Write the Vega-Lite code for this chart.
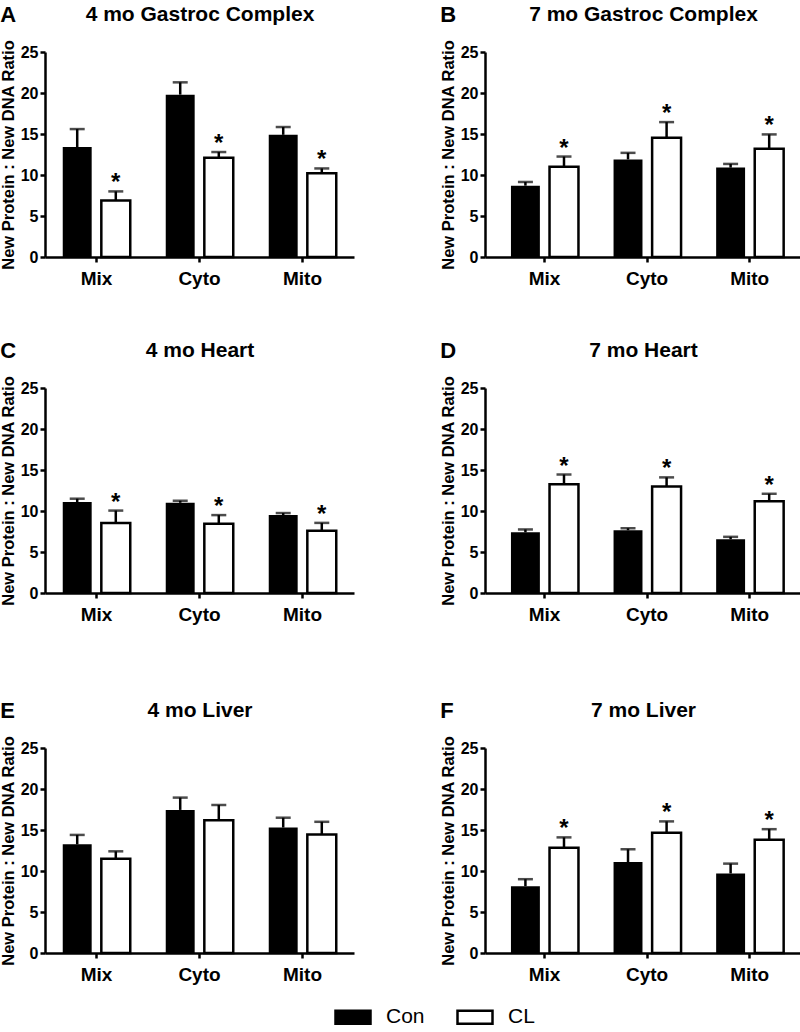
{
"$schema": "https://vega.github.io/schema/vega-lite/v6.json",
"padding": {"top": 3, "left": 0, "right": 0, "bottom": 0},
"background": "white",
"datasets": {"d": [
{"p":"A","cat":"Mix","grp":"Con","mean":13.4,"upper":15.6,"sig":""},
{"p":"A","cat":"Mix","grp":"CL","mean":6.9,"upper":8.0,"sig":"*"},
{"p":"A","cat":"Cyto","grp":"Con","mean":19.8,"upper":21.3,"sig":""},
{"p":"A","cat":"Cyto","grp":"CL","mean":12.1,"upper":12.8,"sig":"*"},
{"p":"A","cat":"Mito","grp":"Con","mean":14.9,"upper":15.85,"sig":""},
{"p":"A","cat":"Mito","grp":"CL","mean":10.2,"upper":10.8,"sig":"*"},
{"p":"B","cat":"Mix","grp":"Con","mean":8.7,"upper":9.15,"sig":""},
{"p":"B","cat":"Mix","grp":"CL","mean":11.0,"upper":12.25,"sig":"*"},
{"p":"B","cat":"Cyto","grp":"Con","mean":11.9,"upper":12.7,"sig":""},
{"p":"B","cat":"Cyto","grp":"CL","mean":14.55,"upper":16.45,"sig":"*"},
{"p":"B","cat":"Mito","grp":"Con","mean":10.9,"upper":11.35,"sig":""},
{"p":"B","cat":"Mito","grp":"CL","mean":13.2,"upper":14.95,"sig":"*"},
{"p":"C","cat":"Mix","grp":"Con","mean":11.1,"upper":11.5,"sig":""},
{"p":"C","cat":"Mix","grp":"CL","mean":8.55,"upper":10.05,"sig":"*"},
{"p":"C","cat":"Cyto","grp":"Con","mean":11.0,"upper":11.25,"sig":""},
{"p":"C","cat":"Cyto","grp":"CL","mean":8.45,"upper":9.5,"sig":"*"},
{"p":"C","cat":"Mito","grp":"Con","mean":9.5,"upper":9.75,"sig":""},
{"p":"C","cat":"Mito","grp":"CL","mean":7.6,"upper":8.55,"sig":"*"},
{"p":"D","cat":"Mix","grp":"Con","mean":7.4,"upper":7.75,"sig":""},
{"p":"D","cat":"Mix","grp":"CL","mean":13.25,"upper":14.45,"sig":"*"},
{"p":"D","cat":"Cyto","grp":"Con","mean":7.65,"upper":7.9,"sig":""},
{"p":"D","cat":"Cyto","grp":"CL","mean":13.0,"upper":14.1,"sig":"*"},
{"p":"D","cat":"Mito","grp":"Con","mean":6.55,"upper":6.85,"sig":""},
{"p":"D","cat":"Mito","grp":"CL","mean":11.2,"upper":12.1,"sig":"*"},
{"p":"E","cat":"Mix","grp":"Con","mean":13.25,"upper":14.4,"sig":""},
{"p":"E","cat":"Mix","grp":"CL","mean":11.5,"upper":12.4,"sig":""},
{"p":"E","cat":"Cyto","grp":"Con","mean":17.45,"upper":18.95,"sig":""},
{"p":"E","cat":"Cyto","grp":"CL","mean":16.2,"upper":18.05,"sig":""},
{"p":"E","cat":"Mito","grp":"Con","mean":15.3,"upper":16.5,"sig":""},
{"p":"E","cat":"Mito","grp":"CL","mean":14.45,"upper":16.0,"sig":""},
{"p":"F","cat":"Mix","grp":"Con","mean":8.15,"upper":9.0,"sig":""},
{"p":"F","cat":"Mix","grp":"CL","mean":12.85,"upper":14.1,"sig":"*"},
{"p":"F","cat":"Cyto","grp":"Con","mean":11.1,"upper":12.65,"sig":""},
{"p":"F","cat":"Cyto","grp":"CL","mean":14.65,"upper":16.05,"sig":"*"},
{"p":"F","cat":"Mito","grp":"Con","mean":9.7,"upper":10.9,"sig":""},
{"p":"F","cat":"Mito","grp":"CL","mean":13.8,"upper":15.1,"sig":"*"}
]},
"vconcat": [
{"vconcat": [
{"hconcat": [
{"width": 309, "height": 205, "data": {"name": "d"}, "transform": [{"filter": "datum.p=='A'"}],
 "title": {"text": "A"},
 "layer": [
  {"mark": {"type": "bar", "stroke": "black"},
   "encoding": {"x": {"field": "cat", "type": "nominal", "sort": ["Mix","Cyto","Mito"], "scale": {"paddingInner": 0, "paddingOuter": 0}, "axis": {"orient": "bottom", "title": null}},
    "xOffset": {"field": "grp", "type": "nominal", "sort": ["Con","CL"], "scale": {"paddingInner": 0.25, "paddingOuter": 0.46}},
    "y": {"field": "mean", "type": "quantitative", "scale": {"domain": [0,25], "nice": false}, "axis": {"title": "New Protein : New DNA Ratio", "values": [0,5,10,15,20,25]}},
    "fill": {"field": "grp", "type": "nominal", "scale": {"domain": ["Con","CL"], "range": ["black","white"]}, "legend": {"orient": "none", "legendX": 289, "legendY": 946, "direction": "horizontal", "title": null, "symbolType": "M-1,-0.37H1V0.37H-1Z", "symbolSize": 1225, "symbolStrokeColor": "black", "symbolStrokeWidth": 2.5, "labelFontSize": 21, "labelFontWeight": "normal", "labelOffset": 14, "columnPadding": 27, "labelColor": "black"}},
    "strokeWidth": {"condition": {"test": "datum.grp=='CL'", "value": 2.5}, "value": 0}}},
  {"mark": {"type": "rule", "strokeWidth": 2.5, "color": "black"},
   "encoding": {"x": {"field": "cat", "type": "nominal", "sort": ["Mix","Cyto","Mito"], "axis": {"orient": "top", "title": "4 mo Gastroc Complex", "labels": false, "ticks": false, "domain": false}},
    "xOffset": {"field": "grp", "type": "nominal", "sort": ["Con","CL"]},
    "y": {"field": "mean", "type": "quantitative", "axis": {"title": "New Protein : New DNA Ratio", "values": [0,5,10,15,20,25]}}, "y2": {"field": "upper"}}},
  {"mark": {"type": "tick", "orient": "horizontal", "size": 15, "thickness": 2.5, "color": "black"},
   "encoding": {"x": {"field": "cat", "type": "nominal", "sort": ["Mix","Cyto","Mito"], "axis": null},
    "xOffset": {"field": "grp", "type": "nominal", "sort": ["Con","CL"]},
    "y": {"field": "upper", "type": "quantitative", "axis": {"title": "New Protein : New DNA Ratio", "values": [0,5,10,15,20,25]}}}},
  {"transform": [{"filter": "datum.sig=='*'"}],
   "mark": {"type": "text", "fontSize": 24, "fontWeight": "bold", "baseline": "alphabetic", "dy": -1, "color": "black"},
   "encoding": {"x": {"field": "cat", "type": "nominal", "sort": ["Mix","Cyto","Mito"], "axis": null},
    "xOffset": {"field": "grp", "type": "nominal", "sort": ["Con","CL"]},
    "y": {"field": "upper", "type": "quantitative", "axis": {"title": "New Protein : New DNA Ratio", "values": [0,5,10,15,20,25]}}, "text": {"field": "sig"}}}
 ],
 "resolve": {"axis": {"x": "independent"}}},
{"width": 316, "height": 205, "data": {"name": "d"}, "transform": [{"filter": "datum.p=='B'"}],
 "title": {"text": "B"},
 "layer": [
  {"mark": {"type": "bar", "stroke": "black"},
   "encoding": {"x": {"field": "cat", "type": "nominal", "sort": ["Mix","Cyto","Mito"], "scale": {"paddingInner": 0, "paddingOuter": 0.04, "align": 1}, "axis": {"orient": "bottom", "title": null}},
    "xOffset": {"field": "grp", "type": "nominal", "sort": ["Con","CL"], "scale": {"paddingInner": 0.25, "paddingOuter": 0.46}},
    "y": {"field": "mean", "type": "quantitative", "scale": {"domain": [0,25], "nice": false}, "axis": {"title": "New Protein : New DNA Ratio", "values": [0,5,10,15,20,25]}},
    "fill": {"field": "grp", "type": "nominal", "scale": {"domain": ["Con","CL"], "range": ["black","white"]}},
    "strokeWidth": {"condition": {"test": "datum.grp=='CL'", "value": 2.5}, "value": 0}}},
  {"mark": {"type": "rule", "strokeWidth": 2.5, "color": "black"},
   "encoding": {"x": {"field": "cat", "type": "nominal", "sort": ["Mix","Cyto","Mito"], "axis": {"orient": "top", "title": "7 mo Gastroc Complex", "labels": false, "ticks": false, "domain": false}},
    "xOffset": {"field": "grp", "type": "nominal", "sort": ["Con","CL"]},
    "y": {"field": "mean", "type": "quantitative", "axis": {"title": "New Protein : New DNA Ratio", "values": [0,5,10,15,20,25]}}, "y2": {"field": "upper"}}},
  {"mark": {"type": "tick", "orient": "horizontal", "size": 15, "thickness": 2.5, "color": "black"},
   "encoding": {"x": {"field": "cat", "type": "nominal", "sort": ["Mix","Cyto","Mito"], "axis": null},
    "xOffset": {"field": "grp", "type": "nominal", "sort": ["Con","CL"]},
    "y": {"field": "upper", "type": "quantitative", "axis": {"title": "New Protein : New DNA Ratio", "values": [0,5,10,15,20,25]}}}},
  {"transform": [{"filter": "datum.sig=='*'"}],
   "mark": {"type": "text", "fontSize": 24, "fontWeight": "bold", "baseline": "alphabetic", "dy": -1, "color": "black"},
   "encoding": {"x": {"field": "cat", "type": "nominal", "sort": ["Mix","Cyto","Mito"], "axis": null},
    "xOffset": {"field": "grp", "type": "nominal", "sort": ["Con","CL"]},
    "y": {"field": "upper", "type": "quantitative", "axis": {"title": "New Protein : New DNA Ratio", "values": [0,5,10,15,20,25]}}, "text": {"field": "sig"}}}
 ],
 "resolve": {"axis": {"x": "independent"}}}
], "spacing": 86},
{"hconcat": [
{"width": 309, "height": 205, "data": {"name": "d"}, "transform": [{"filter": "datum.p=='C'"}],
 "title": {"text": "C"},
 "layer": [
  {"mark": {"type": "bar", "stroke": "black"},
   "encoding": {"x": {"field": "cat", "type": "nominal", "sort": ["Mix","Cyto","Mito"], "scale": {"paddingInner": 0, "paddingOuter": 0}, "axis": {"orient": "bottom", "title": null}},
    "xOffset": {"field": "grp", "type": "nominal", "sort": ["Con","CL"], "scale": {"paddingInner": 0.25, "paddingOuter": 0.46}},
    "y": {"field": "mean", "type": "quantitative", "scale": {"domain": [0,25], "nice": false}, "axis": {"title": "New Protein : New DNA Ratio", "values": [0,5,10,15,20,25]}},
    "fill": {"field": "grp", "type": "nominal", "scale": {"domain": ["Con","CL"], "range": ["black","white"]}},
    "strokeWidth": {"condition": {"test": "datum.grp=='CL'", "value": 2.5}, "value": 0}}},
  {"mark": {"type": "rule", "strokeWidth": 2.5, "color": "black"},
   "encoding": {"x": {"field": "cat", "type": "nominal", "sort": ["Mix","Cyto","Mito"], "axis": {"orient": "top", "title": "4 mo Heart", "labels": false, "ticks": false, "domain": false}},
    "xOffset": {"field": "grp", "type": "nominal", "sort": ["Con","CL"]},
    "y": {"field": "mean", "type": "quantitative", "axis": {"title": "New Protein : New DNA Ratio", "values": [0,5,10,15,20,25]}}, "y2": {"field": "upper"}}},
  {"mark": {"type": "tick", "orient": "horizontal", "size": 15, "thickness": 2.5, "color": "black"},
   "encoding": {"x": {"field": "cat", "type": "nominal", "sort": ["Mix","Cyto","Mito"], "axis": null},
    "xOffset": {"field": "grp", "type": "nominal", "sort": ["Con","CL"]},
    "y": {"field": "upper", "type": "quantitative", "axis": {"title": "New Protein : New DNA Ratio", "values": [0,5,10,15,20,25]}}}},
  {"transform": [{"filter": "datum.sig=='*'"}],
   "mark": {"type": "text", "fontSize": 24, "fontWeight": "bold", "baseline": "alphabetic", "dy": -1, "color": "black"},
   "encoding": {"x": {"field": "cat", "type": "nominal", "sort": ["Mix","Cyto","Mito"], "axis": null},
    "xOffset": {"field": "grp", "type": "nominal", "sort": ["Con","CL"]},
    "y": {"field": "upper", "type": "quantitative", "axis": {"title": "New Protein : New DNA Ratio", "values": [0,5,10,15,20,25]}}, "text": {"field": "sig"}}}
 ],
 "resolve": {"axis": {"x": "independent"}}},
{"width": 316, "height": 205, "data": {"name": "d"}, "transform": [{"filter": "datum.p=='D'"}],
 "title": {"text": "D"},
 "layer": [
  {"mark": {"type": "bar", "stroke": "black"},
   "encoding": {"x": {"field": "cat", "type": "nominal", "sort": ["Mix","Cyto","Mito"], "scale": {"paddingInner": 0, "paddingOuter": 0.04, "align": 1}, "axis": {"orient": "bottom", "title": null}},
    "xOffset": {"field": "grp", "type": "nominal", "sort": ["Con","CL"], "scale": {"paddingInner": 0.25, "paddingOuter": 0.46}},
    "y": {"field": "mean", "type": "quantitative", "scale": {"domain": [0,25], "nice": false}, "axis": {"title": "New Protein : New DNA Ratio", "values": [0,5,10,15,20,25]}},
    "fill": {"field": "grp", "type": "nominal", "scale": {"domain": ["Con","CL"], "range": ["black","white"]}},
    "strokeWidth": {"condition": {"test": "datum.grp=='CL'", "value": 2.5}, "value": 0}}},
  {"mark": {"type": "rule", "strokeWidth": 2.5, "color": "black"},
   "encoding": {"x": {"field": "cat", "type": "nominal", "sort": ["Mix","Cyto","Mito"], "axis": {"orient": "top", "title": "7 mo Heart", "labels": false, "ticks": false, "domain": false}},
    "xOffset": {"field": "grp", "type": "nominal", "sort": ["Con","CL"]},
    "y": {"field": "mean", "type": "quantitative", "axis": {"title": "New Protein : New DNA Ratio", "values": [0,5,10,15,20,25]}}, "y2": {"field": "upper"}}},
  {"mark": {"type": "tick", "orient": "horizontal", "size": 15, "thickness": 2.5, "color": "black"},
   "encoding": {"x": {"field": "cat", "type": "nominal", "sort": ["Mix","Cyto","Mito"], "axis": null},
    "xOffset": {"field": "grp", "type": "nominal", "sort": ["Con","CL"]},
    "y": {"field": "upper", "type": "quantitative", "axis": {"title": "New Protein : New DNA Ratio", "values": [0,5,10,15,20,25]}}}},
  {"transform": [{"filter": "datum.sig=='*'"}],
   "mark": {"type": "text", "fontSize": 24, "fontWeight": "bold", "baseline": "alphabetic", "dy": -1, "color": "black"},
   "encoding": {"x": {"field": "cat", "type": "nominal", "sort": ["Mix","Cyto","Mito"], "axis": null},
    "xOffset": {"field": "grp", "type": "nominal", "sort": ["Con","CL"]},
    "y": {"field": "upper", "type": "quantitative", "axis": {"title": "New Protein : New DNA Ratio", "values": [0,5,10,15,20,25]}}, "text": {"field": "sig"}}}
 ],
 "resolve": {"axis": {"x": "independent"}}}
], "spacing": 86}
], "spacing": 51},
{"hconcat": [
{"width": 309, "height": 205, "data": {"name": "d"}, "transform": [{"filter": "datum.p=='E'"}],
 "title": {"text": "E"},
 "layer": [
  {"mark": {"type": "bar", "stroke": "black"},
   "encoding": {"x": {"field": "cat", "type": "nominal", "sort": ["Mix","Cyto","Mito"], "scale": {"paddingInner": 0, "paddingOuter": 0}, "axis": {"orient": "bottom", "title": null}},
    "xOffset": {"field": "grp", "type": "nominal", "sort": ["Con","CL"], "scale": {"paddingInner": 0.25, "paddingOuter": 0.46}},
    "y": {"field": "mean", "type": "quantitative", "scale": {"domain": [0,25], "nice": false}, "axis": {"title": "New Protein : New DNA Ratio", "values": [0,5,10,15,20,25]}},
    "fill": {"field": "grp", "type": "nominal", "scale": {"domain": ["Con","CL"], "range": ["black","white"]}},
    "strokeWidth": {"condition": {"test": "datum.grp=='CL'", "value": 2.5}, "value": 0}}},
  {"mark": {"type": "rule", "strokeWidth": 2.5, "color": "black"},
   "encoding": {"x": {"field": "cat", "type": "nominal", "sort": ["Mix","Cyto","Mito"], "axis": {"orient": "top", "title": "4 mo Liver", "labels": false, "ticks": false, "domain": false}},
    "xOffset": {"field": "grp", "type": "nominal", "sort": ["Con","CL"]},
    "y": {"field": "mean", "type": "quantitative", "axis": {"title": "New Protein : New DNA Ratio", "values": [0,5,10,15,20,25]}}, "y2": {"field": "upper"}}},
  {"mark": {"type": "tick", "orient": "horizontal", "size": 15, "thickness": 2.5, "color": "black"},
   "encoding": {"x": {"field": "cat", "type": "nominal", "sort": ["Mix","Cyto","Mito"], "axis": null},
    "xOffset": {"field": "grp", "type": "nominal", "sort": ["Con","CL"]},
    "y": {"field": "upper", "type": "quantitative", "axis": {"title": "New Protein : New DNA Ratio", "values": [0,5,10,15,20,25]}}}}
 ],
 "resolve": {"axis": {"x": "independent"}}},
{"width": 316, "height": 205, "data": {"name": "d"}, "transform": [{"filter": "datum.p=='F'"}],
 "title": {"text": "F"},
 "layer": [
  {"mark": {"type": "bar", "stroke": "black"},
   "encoding": {"x": {"field": "cat", "type": "nominal", "sort": ["Mix","Cyto","Mito"], "scale": {"paddingInner": 0, "paddingOuter": 0.04, "align": 1}, "axis": {"orient": "bottom", "title": null}},
    "xOffset": {"field": "grp", "type": "nominal", "sort": ["Con","CL"], "scale": {"paddingInner": 0.25, "paddingOuter": 0.46}},
    "y": {"field": "mean", "type": "quantitative", "scale": {"domain": [0,25], "nice": false}, "axis": {"title": "New Protein : New DNA Ratio", "values": [0,5,10,15,20,25]}},
    "fill": {"field": "grp", "type": "nominal", "scale": {"domain": ["Con","CL"], "range": ["black","white"]}},
    "strokeWidth": {"condition": {"test": "datum.grp=='CL'", "value": 2.5}, "value": 0}}},
  {"mark": {"type": "rule", "strokeWidth": 2.5, "color": "black"},
   "encoding": {"x": {"field": "cat", "type": "nominal", "sort": ["Mix","Cyto","Mito"], "axis": {"orient": "top", "title": "7 mo Liver", "labels": false, "ticks": false, "domain": false}},
    "xOffset": {"field": "grp", "type": "nominal", "sort": ["Con","CL"]},
    "y": {"field": "mean", "type": "quantitative", "axis": {"title": "New Protein : New DNA Ratio", "values": [0,5,10,15,20,25]}}, "y2": {"field": "upper"}}},
  {"mark": {"type": "tick", "orient": "horizontal", "size": 15, "thickness": 2.5, "color": "black"},
   "encoding": {"x": {"field": "cat", "type": "nominal", "sort": ["Mix","Cyto","Mito"], "axis": null},
    "xOffset": {"field": "grp", "type": "nominal", "sort": ["Con","CL"]},
    "y": {"field": "upper", "type": "quantitative", "axis": {"title": "New Protein : New DNA Ratio", "values": [0,5,10,15,20,25]}}}},
  {"transform": [{"filter": "datum.sig=='*'"}],
   "mark": {"type": "text", "fontSize": 24, "fontWeight": "bold", "baseline": "alphabetic", "dy": -1, "color": "black"},
   "encoding": {"x": {"field": "cat", "type": "nominal", "sort": ["Mix","Cyto","Mito"], "axis": null},
    "xOffset": {"field": "grp", "type": "nominal", "sort": ["Con","CL"]},
    "y": {"field": "upper", "type": "quantitative", "axis": {"title": "New Protein : New DNA Ratio", "values": [0,5,10,15,20,25]}}, "text": {"field": "sig"}}}
 ],
 "resolve": {"axis": {"x": "independent"}}}
], "spacing": 86}
],
"spacing": 75,
"config": {
 "font": "Liberation Sans",
 "view": {"stroke": null},
 "title": {"fontSize": 22, "fontWeight": "bold", "anchor": "start", "frame": "bounds", "baseline": "alphabetic", "offset": -24, "color": "black"},
 "axis": {"domainColor": "black", "domainWidth": 2.5, "tickColor": "black", "tickWidth": 2.5, "tickSize": 5, "labelColor": "black", "titleColor": "black", "labelFontWeight": "bold", "titleFontWeight": "bold", "grid": false},
 "axisX": {"labelFontSize": 19, "labelAngle": 0, "labelPadding": 7, "titleFontSize": 21, "titlePadding": 32, "titleBaseline": "alphabetic"},
 "axisY": {"labelFontSize": 16, "labelPadding": 2, "titleFontSize": 16.5, "titlePadding": 4}
}
}
